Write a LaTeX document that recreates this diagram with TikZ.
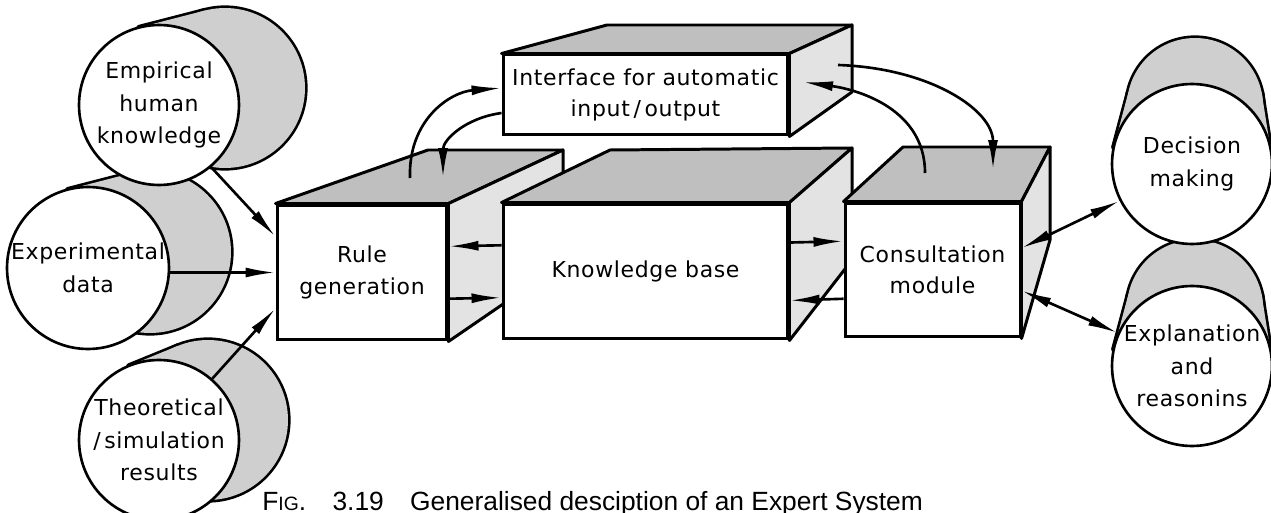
\documentclass[tikz,border=0pt]{standalone}
\usepackage{fontspec}
\setmainfont{DejaVu Sans}[LetterSpace=3.0]
\newfontfamily\capfont{Liberation Sans}
\usetikzlibrary{arrows.meta,calc}

\tikzset{
  frontbox/.style={draw, fill=white, line width=1.7pt, minimum height=2.7cm, inner sep=0pt,
    align=center, font=\fontsize{12.5}{18}\selectfont},
  topface/.style={fill=gray!50, draw=black, line width=1.7pt, line join=round},
  sideface/.style={fill=gray!22, draw=black, line width=1.7pt, line join=round},
  bubble/.style={circle, draw, fill=white, line width=1.5pt, minimum size=3.2cm, inner sep=0pt,
    align=center, font=\fontsize{12.5}{18.5}\selectfont},
  backline/.style={line width=3pt, line join=round},
  cylfill/.style={fill=gray!38},
  arr/.style={-{Latex[length=0.6cm,width=0.2cm]}, line width=1.5pt},
  darr/.style={{Latex[length=0.6cm,width=0.2cm]}-{Latex[length=0.6cm,width=0.2cm]}, line width=1.5pt},
}

\begin{document}
\begin{tikzpicture}[x=0.02cm,y=-0.02cm]
  \useasboundingbox (0,0) rectangle (1271,513);

  % inputs on the left
  \draw[backline] (208,420) circle[radius=1.6cm];
  \draw[backline] (159,440) -- (128.8,365.9) -- (177.8,345.9) -- (208,420) -- cycle;
  \fill[cylfill] (208,420) circle[radius=1.6cm];
  \fill[cylfill] (159,440) -- (128.8,365.9) -- (177.8,345.9) -- (208,420) -- cycle;
  \node[bubble] (theo) at (159,440) {Theoretical\\/\,simulation\\results};

  \draw[backline] (150,252) circle[radius=1.62cm];
  \draw[backline] (88,268) -- (67.8,189.6) -- (129.8,173.6) -- (150,252) -- cycle;
  \fill[cylfill] (150,252) circle[radius=1.62cm];
  \fill[cylfill] (88,268) -- (67.8,189.6) -- (129.8,173.6) -- (150,252) -- cycle;
  \node[bubble, minimum size=3.24cm] (exp) at (88,268) {Experimental\\data};

  \draw[backline] (225,88) circle[radius=1.6cm];
  \draw[backline] (159,105) -- (139,27.5) -- (205,10.5) -- (225,88) -- cycle;
  \fill[cylfill] (225,88) circle[radius=1.6cm];
  \fill[cylfill] (159,105) -- (139,27.5) -- (205,10.5) -- (225,88) -- cycle;
  \node[bubble] (emp) at (159,105) {Empirical\\human\\knowledge};

  % outputs on the right
  \draw[backline] (1195,308) circle[radius=1.36cm];
  \draw[backline] (1113.7,349.4) -- (1128.5,293.9) -- (1261.5,293.9) -- (1270.3,349.4) -- cycle;
  \fill[cylfill] (1195,308) circle[radius=1.36cm];
  \fill[cylfill] (1113.7,349.4) -- (1128.5,293.9) -- (1261.5,293.9) -- (1270.3,349.4) -- cycle;
  \node[bubble] (expl) at (1192,366) {Explanation\\and\\reasonins};

  \draw[backline] (1195,106) circle[radius=1.36cm];
  \draw[backline] (1113.7,147.4) -- (1128.5,91.9) -- (1261.5,91.9) -- (1270.3,147.4) -- cycle;
  \fill[cylfill] (1195,106) circle[radius=1.36cm];
  \fill[cylfill] (1113.7,147.4) -- (1128.5,91.9) -- (1261.5,91.9) -- (1270.3,147.4) -- cycle;
  \node[bubble] (dec) at (1192,164) {Decision\\making};

  % blocks
  \node[frontbox, minimum width=3.4cm] (rule) at (362,272.5) {Rule\\generation};
  \draw[topface] (rule.north west) -- (428,150) -- (563,150) -- (rule.north east) -- cycle;
  \draw[sideface] (rule.north east) -- (563,150) -- (563,263) -- (rule.south east) -- cycle;

  \node[frontbox, minimum width=5.7cm, minimum height=1.6cm] (iface) at (645.5,95)
    {Interface for automatic\\input\,/\,output};
  \draw[topface] (iface.north west) -- (607,25) -- (852,25) -- (iface.north east) -- cycle;
  \draw[sideface] (iface.north east) -- (852,25) -- (852,92) -- (iface.south east) -- cycle;

  \node[frontbox, minimum width=5.7cm] (kb) at (645.5,271.5) {Knowledge base};
  \draw[topface] (kb.north west) -- (610,150) -- (852,148) -- (kb.north east) -- cycle;
  \draw[sideface] (kb.north east) -- (852,148) -- (852,260) -- (kb.south east) -- cycle;

  \node[frontbox, minimum width=3.5cm, minimum height=2.68cm] (cons) at (932.5,270) {Consultation\\module};
  \draw[topface] (cons.north west) -- (903,147) -- (1050,147) -- (cons.north east) -- cycle;
  \draw[sideface] (cons.north east) -- (1050,147) -- (1050,240) -- (1022,337) -- (cons.south east) -- cycle;

  % curved links through the interface
  \coordinate (ruleup) at (410,178);
  \coordinate (ruledown) at (443,178);
  \coordinate (ifaceA) at (803,82);
  \coordinate (ifaceB) at (838,65);
  \coordinate (consup) at (925,173);
  \coordinate (consdown) at (993,170);
  \draw[arr] (ruleup) .. controls (408,120) and (450,92) .. ($(iface.west)+(0,-7)$);
  \draw[arr] ($(iface.west)+(0,18)$) .. controls (465,118) and (443,140) .. (ruledown);
  \draw[arr] (consup) .. controls (925,110) and (860,90) .. (ifaceA);
  \draw[arr] (ifaceB) .. controls (930,68) and (993,110) .. (consdown);

  % straight links
  \draw[arr] (emp.-50) -- ($(rule.north west)!0.24!(rule.south west)$);
  \draw[arr] (exp.east |- rule.west) -- (rule.west);
  \draw[arr] (theo.49) -- ($(rule.north west)!0.76!(rule.south west)$);
  \draw[arr] ($(kb.north west)!0.31!(kb.south west)$) -- ($(rule.north east)!0.31!(rule.south east)$);
  \draw[arr] ($(rule.north east)!0.69!(rule.south east)$) -- ($(kb.north west)!0.69!(kb.south west)$);
  \draw[arr] ($(kb.north east)!0.29!(kb.south east)$) -- ($(cons.north west)!0.29!(cons.south west)$);
  \draw[arr] ($(cons.north west)!0.71!(cons.south west)$) -- ($(kb.north east)!0.71!(kb.south east)$);
  \draw[darr] ($(cons.north east)!0.34!(cons.south east)$) -- (dec.207);
  \draw[darr] ($(cons.north east)!0.65!(cons.south east)$) -- (expl.156);

  \node[anchor=base west, inner sep=0pt, font=\capfont\fontsize{15}{17}\selectfont] (caption) at (262,510)
    {F{\fontsize{11}{12}\selectfont IG}.\quad 3.19\quad Generalised desciption of an Expert System};
\end{tikzpicture}
\end{document}
